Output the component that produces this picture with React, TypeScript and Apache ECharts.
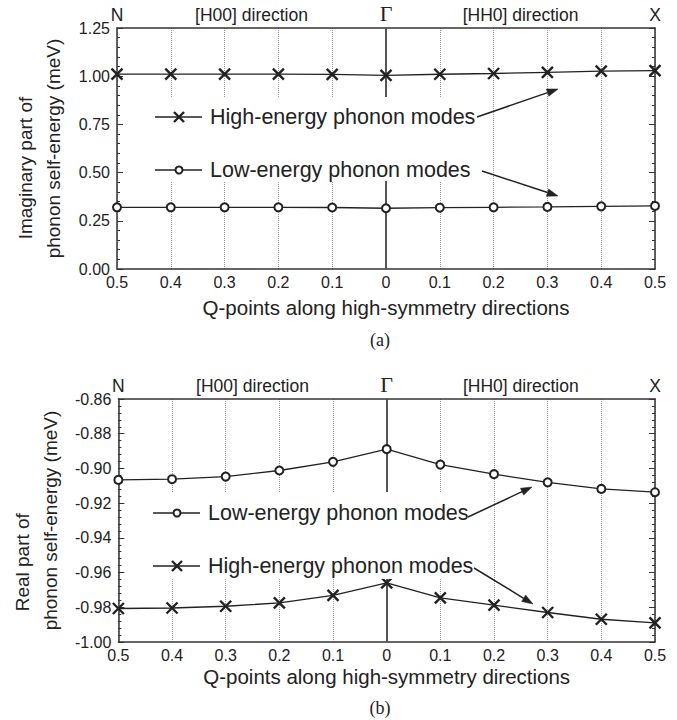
import React, { useEffect, useRef } from 'react';
import * as echarts from 'echarts';

// ---- data ----
const qLabels = ['0.5', '0.4', '0.3', '0.2', '0.1', '0', '0.1', '0.2', '0.3', '0.4', '0.5'];
const topLabels = ['N', '[H00] direction', 'Γ', '[HH0] direction', 'X'];
const seriesNames = ['High-energy phonon modes', 'Low-energy phonon modes'];
const imagHigh = [1.011, 1.011, 1.011, 1.011, 1.009, 1.004, 1.010, 1.014, 1.020, 1.026, 1.029];
const imagLow = [0.320, 0.320, 0.320, 0.320, 0.319, 0.315, 0.318, 0.320, 0.322, 0.325, 0.327];
const realLow = [-0.9066, -0.9062, -0.9047, -0.9012, -0.8962, -0.8889, -0.8978, -0.9033, -0.9080, -0.9118, -0.9137];
const realHigh = [-0.9807, -0.9804, -0.9794, -0.9775, -0.9731, -0.9659, -0.9746, -0.9788, -0.9830, -0.9869, -0.9890];

const FONT = "'Liberation Sans', Arial, Helvetica, sans-serif";
const SERIF = "'Liberation Serif', 'Times New Roman', serif";
const INK = '#222';
const AXIS = '#333';
const X_SYMBOL = 'path://M0,0L10,10M10,0L0,10';

const toPts = (arr: number[]) => arr.map((v, i) => [i, v]);

function bottomX(gridIndex: number, nameGap: number) {
  return {
    type: 'value', gridIndex, min: 0, max: 10, interval: 1, position: 'bottom',
    name: 'Q-points along high-symmetry directions', nameLocation: 'middle', nameGap,
    nameTextStyle: { fontFamily: FONT, fontSize: 20.5, color: INK },
    axisLine: { show: true, onZero: false, lineStyle: { color: AXIS, width: 1.5 } },
    axisTick: { show: false },
    axisLabel: {
      margin: 5, fontFamily: FONT, fontSize: 16, color: INK,
      formatter: (v: number) => qLabels[Math.round(v)] ?? '',
    },
    splitLine: { show: true, lineStyle: { type: 'dotted', color: '#999', width: 1 } },
  };
}

function topX(gridIndex: number) {
  return {
    type: 'value', gridIndex, min: 0, max: 10, interval: 2.5, position: 'top',
    axisLine: { show: true, onZero: false, lineStyle: { color: AXIS, width: 1.5 } },
    axisTick: { show: false },
    splitLine: { show: false },
    axisLabel: {
      margin: 4, fontFamily: FONT, fontSize: 17.5, color: INK, hideOverlap: false,
      formatter: (v: number) => {
        const t = topLabels[Math.round(v / 2.5)] ?? '';
        return t === 'Γ' ? '{g|Γ}' : t;
      },
      rich: { g: { fontFamily: SERIF, fontSize: 22, color: INK } },
    },
  };
}

function leftY(gridIndex: number, min: number, max: number, interval: number, line1: string) {
  const richBase = { fontFamily: FONT, fontSize: 19, color: INK, lineHeight: 28 };
  return {
    type: 'value', gridIndex, min, max, interval, position: 'left',
    name: `{a|${line1}}\n{b|phonon self-energy (meV)}`,
    nameLocation: 'middle', nameGap: 50, nameRotate: 90,
    nameTextStyle: {
      ...richBase,
      rich: {
        a: { ...richBase, align: 'left', padding: [0, 0, 0, 19] },
        b: { ...richBase, align: 'left' },
      },
    },
    axisLine: { show: true, onZero: false, lineStyle: { color: AXIS, width: 1.5 } },
    axisTick: { show: true, inside: true, length: 6, lineStyle: { color: AXIS, width: 1 } },
    minorTick: { show: true, splitNumber: 5, length: 3, lineStyle: { color: AXIS, width: 1 } },
    axisLabel: {
      margin: 7, fontFamily: FONT, fontSize: 16, color: INK,
      formatter: (v: number) => v.toFixed(2),
    },
    splitLine: { show: false },
  };
}

function rightY(gridIndex: number, min: number, max: number, interval: number) {
  return {
    type: 'value', gridIndex, min, max, interval, position: 'right',
    axisLine: { show: true, onZero: false, lineStyle: { color: AXIS, width: 1.5 } },
    axisTick: { show: true, inside: true, length: 6, lineStyle: { color: AXIS, width: 1 } },
    minorTick: { show: true, splitNumber: 5, length: 3, lineStyle: { color: AXIS, width: 1 } },
    axisLabel: { show: false },
    splitLine: { show: false },
  };
}

function lineSeries(name: string, data: number[], xi: number, yi: number, kind: 'x' | 'o', gamma: boolean) {
  const s: any = {
    name, type: 'line', xAxisIndex: xi, yAxisIndex: yi, data: toPts(data),
    symbol: kind === 'x' ? X_SYMBOL : 'circle',
    symbolSize: kind === 'x' ? 11 : 8,
    showSymbol: true,
    lineStyle: { color: INK, width: 1.3 },
    itemStyle: kind === 'x'
      ? { color: INK, borderColor: INK, borderWidth: 2.4 }
      : { color: '#fff', borderColor: INK, borderWidth: 2 },
    z: 3,
  };
  if (gamma) {
    s.markLine = {
      silent: true, symbol: 'none', z: 1,
      label: { show: false },
      lineStyle: { type: 'solid', color: '#555', width: 2 },
      data: [{ xAxis: 5 }],
    };
  }
  return s;
}

function arrow(x1: number, y1: number, x2: number, y2: number) {
  const dx = x2 - x1, dy = y2 - y1;
  const len = Math.hypot(dx, dy);
  const ux = dx / len, uy = dy / len;
  const nx = -uy, ny = ux;
  const hl = 11, hw = 3.8;
  const bx = x2 - ux * hl, by = y2 - uy * hl;
  return [
    { type: 'line', z: 20, shape: { x1, y1, x2: bx, y2: by }, style: { stroke: INK, lineWidth: 1.5 } },
    {
      type: 'polygon', z: 20,
      shape: { points: [[x2, y2], [bx + nx * hw, by + ny * hw], [bx - nx * hw, by - ny * hw]] },
      style: { fill: INK, stroke: INK, lineWidth: 0.5 },
    },
  ];
}

function legendItem(x0: number, y: number, kind: 'x' | 'o', text: string) {
  const cx = x0 + 24;
  const els: any[] = [
    { type: 'line', z: 20, shape: { x1: x0, y1: y, x2: x0 + 47, y2: y }, style: { stroke: INK, lineWidth: 1.3 } },
  ];
  if (kind === 'x') {
    els.push({ type: 'line', z: 21, shape: { x1: cx - 5, y1: y - 5, x2: cx + 5, y2: y + 5 }, style: { stroke: INK, lineWidth: 2.4 } });
    els.push({ type: 'line', z: 21, shape: { x1: cx - 5, y1: y + 5, x2: cx + 5, y2: y - 5 }, style: { stroke: INK, lineWidth: 2.4 } });
  } else {
    els.push({ type: 'circle', z: 21, shape: { cx, cy: y, r: 3.5 }, style: { fill: '#fff', stroke: INK, lineWidth: 2 } });
  }
  els.push({
    type: 'text', z: 21, x: x0 + 55, y,
    style: {
      text, fontFamily: FONT, fontSize: 21.5, fill: INK,
      align: 'left', verticalAlign: 'middle', textAlign: 'left', textVerticalAlign: 'middle',
    },
  });
  return els;
}

function caption(text: string, x: number, y: number) {
  return {
    type: 'text', z: 21, x, y,
    style: {
      text, fontFamily: SERIF, fontSize: 18, fill: INK,
      align: 'center', verticalAlign: 'middle', textAlign: 'center', textVerticalAlign: 'middle',
    },
  };
}

export default function App() {
  const ref = useRef<HTMLDivElement>(null);
  useEffect(() => {
    if (!ref.current) return;
    const chart = echarts.init(ref.current, undefined, { renderer: 'svg' });
    const option: any = {
      animation: false,
      backgroundColor: '#fff',
      textStyle: { fontFamily: FONT },
      grid: [
        { left: 117, top: 28, width: 538, height: 241 },
        { left: 117, top: 399, width: 538, height: 243 },
      ],
      xAxis: [bottomX(0, 28), topX(0), bottomX(1, 24), topX(1)],
      yAxis: [
        leftY(0, 0, 1.25, 0.25, 'Imaginary part of'),
        rightY(0, 0, 1.25, 0.25),
        leftY(1, -1.0, -0.86, 0.02, 'Real part of'),
        rightY(1, -1.0, -0.86, 0.02),
      ],
      series: [
        lineSeries(seriesNames[0], imagHigh, 0, 0, 'x', true),
        lineSeries(seriesNames[1], imagLow, 0, 0, 'o', false),
        lineSeries(seriesNames[1], realLow, 2, 2, 'o', true),
        lineSeries(seriesNames[0], realHigh, 2, 2, 'x', false),
      ],
      graphic: [
        { type: 'rect', z: 10, shape: { x: 148, y: 97, width: 338, height: 84 }, style: { fill: '#fff' } },
        { type: 'rect', z: 10, shape: { x: 148, y: 492, width: 338, height: 87 }, style: { fill: '#fff' } },
        ...legendItem(155, 117, 'x', seriesNames[0]),
        ...legendItem(155, 170, 'o', seriesNames[1]),
        ...legendItem(153, 513, 'o', seriesNames[1]),
        ...legendItem(153, 566, 'x', seriesNames[0]),
        ...arrow(477, 117, 558, 89),
        ...arrow(482, 171, 558, 196),
        ...arrow(468, 517, 532, 487),
        ...arrow(474, 568, 533, 604),
        caption('(a)', 380, 340),
        caption('(b)', 380, 708),
      ],
    };
    chart.setOption(option);
    return () => chart.dispose();
  }, []);
  return <div ref={ref} style={{ position: 'absolute', left: 0, top: 0, width: 677, height: 720 }} />;
}
